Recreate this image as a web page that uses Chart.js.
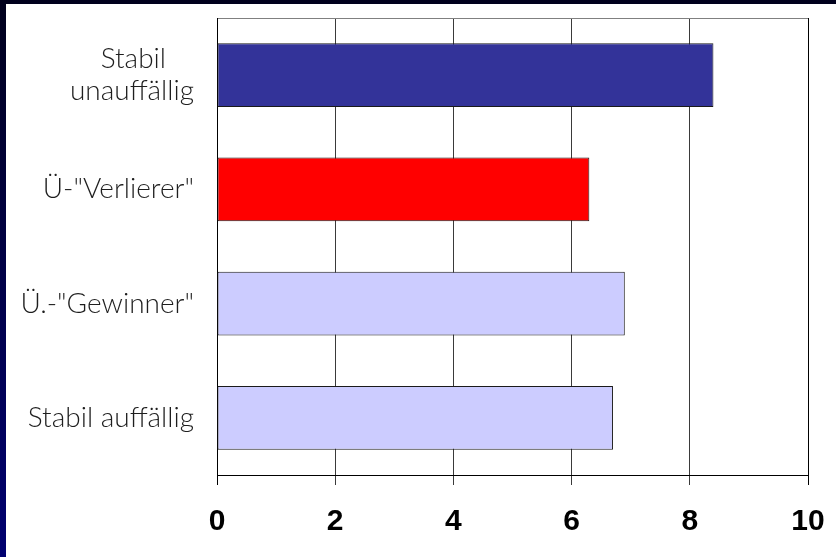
<!DOCTYPE html>
<html>
<head>
<meta charset="utf-8">
<script src="https://cdn.jsdelivr.net/npm/chart.js@4/dist/chart.umd.min.js"></script>
<style>
  html, body { margin: 0; padding: 0; }
  body { width: 836px; height: 557px; overflow: hidden; position: relative;
         background: linear-gradient(to bottom, #00001c 0%, #000048 50%, #000070 100%); }
  #wrap { position: absolute; left: 6px; top: 4px; width: 830px; height: 553px; background: #ffffff; }
  canvas { display: block; }
</style>
</head>
<body>
<div id="wrap"><canvas id="c" width="830" height="553"></canvas></div>
<script>
const categories = [["Stabil", "unauffällig"], "Ü-\"Verlierer\"", "Ü.-\"Gewinner\"", "Stabil auffällig"];
const values = [8.4, 6.3, 6.9, 6.7];
const barColors = ["#333399", "#FF0000", "#CCCCFF", "#CCCCFF"];
const xTicks = [0, 2, 4, 6, 8, 10];

const ctx = document.getElementById('c').getContext('2d');
new Chart(ctx, {
  type: 'bar',
  data: {
    labels: categories,
    datasets: [{
      data: values,
      backgroundColor: barColors,
      borderColor: '#1a1a1a',
      borderWidth: 1,
      borderSkipped: false,
      barPercentage: 0.56,
      categoryPercentage: 1.0
    }]
  },
  options: {
    indexAxis: 'y',
    responsive: false,
    animation: false,
    events: [],
    layout: { padding: { left: 0, top: 14, right: 28, bottom: 0 } },
    plugins: { legend: { display: false }, tooltip: { enabled: false } },
    scales: {
      x: {
        min: xTicks[0],
        max: xTicks[xTicks.length - 1],
        afterBuildTicks: (scale) => { scale.ticks = xTicks.map(v => ({ value: v })); },
        afterFit: (scale) => { scale.height = 82; scale.paddingLeft = 0; scale.paddingRight = 0; },
        border: { display: true, color: '#000000', width: 1 },
        grid: {
          display: true,
          drawTicks: true,
          tickLength: 10,
          color: (c) => (c.index === 0 || c.index === xTicks.length - 1) ? '#000000' : '#3a3a3a',
          lineWidth: 1
        },
        ticks: {
          color: '#000000',
          padding: 19,
          font: { family: 'Liberation Sans', size: 30, weight: 'bold', lineHeight: 1.2 }
        }
      },
      y: {
        afterFit: (scale) => { scale.width = 211; scale.paddingTop = 0; scale.paddingBottom = 0; },
        border: { display: true, color: '#000000', width: 1 },
        grid: {
          display: true,
          offset: true,
          drawTicks: false,
          color: (c) => c.index === 0 ? '#808080' : 'rgba(0,0,0,0)',
          lineWidth: 1
        },
        ticks: {
          color: '#1e1e1e',
          padding: 23,
          font: { family: 'Lato', size: 28, weight: 300, lineHeight: 1.12 },
          callback: function (v, i) {
            const l = categories[i];
            if (Array.isArray(l)) {
              return [l[0] + '\u2002\u2002', l[1]];
            }
            return l;
          }
        }
      }
    }
  }
});
</script>
</body>
</html>
